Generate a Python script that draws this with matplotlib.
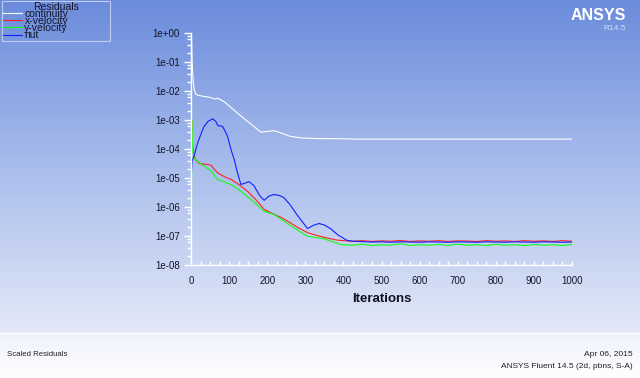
import numpy as np
import matplotlib.pyplot as plt
from matplotlib.colors import LinearSegmentedColormap
from matplotlib.ticker import FixedLocator, MultipleLocator, FuncFormatter

plt.rcParams['font.family'] = ['Liberation Sans', 'DejaVu Sans']

# tail iterations shared by the converged part of the run
tail_iters = [425, 450, 475, 500, 525, 550, 575, 600, 625, 650, 675, 700,
              725, 750, 775, 800, 825, 850, 875, 900, 925, 950, 975, 1000]

cont_iters = [1, 2, 3, 5, 8, 12, 20, 35, 50, 62, 70, 78, 90, 105, 125, 144,
              165, 183, 200, 217, 235, 262, 290, 330, 400] + tail_iters
continuity = [1.0, 0.3, 0.1, 0.03, 0.012, 8e-3, 7e-3, 6.5e-3, 6e-3, 5.3e-3,
              5.6e-3, 5.0e-3, 4.0e-3, 2.7e-3, 1.6e-3, 1.0e-3, 6e-4, 3.8e-4,
              4.0e-4, 4.3e-4, 3.6e-4, 2.7e-4, 2.4e-4, 2.3e-4, 2.25e-4,
              2.2e-4, 2.2e-4, 2.2e-4, 2.2e-4, 2.2e-4, 2.2e-4, 2.2e-4, 2.2e-4,
              2.2e-4, 2.2e-4, 2.2e-4, 2.2e-4, 2.2e-4, 2.2e-4, 2.2e-4, 2.2e-4,
              2.2e-4, 2.2e-4, 2.2e-4, 2.2e-4, 2.2e-4, 2.2e-4, 2.2e-4, 2.2e-4]

xvel_iters = [1, 2, 3, 5, 8, 14, 21, 35, 52, 60, 70, 83, 95, 105, 125, 148,
              170, 192, 215, 236, 258, 279, 306, 330, 349, 384, 410] + tail_iters
x_velocity = [6e-6, 1e-3, 3e-4, 1e-4, 5.5e-5, 4e-5, 3.2e-5, 3e-5, 2.8e-5,
              2.1e-5, 1.5e-5, 1.2e-5, 1.0e-5, 9e-6, 6e-6, 3.5e-6, 1.8e-6,
              8.3e-7, 5.8e-7, 4.4e-7, 3e-7, 2e-7, 1.3e-7, 1.05e-7, 9e-8,
              7.2e-8, 6.8e-8,
              6.6e-8, 6.9e-8, 6.5e-8, 6.8e-8, 6.6e-8, 7.0e-8, 6.5e-8, 6.8e-8,
              6.6e-8, 6.9e-8, 6.5e-8, 6.8e-8, 6.7e-8, 6.5e-8, 6.9e-8, 6.6e-8,
              6.8e-8, 6.5e-8, 6.9e-8, 6.6e-8, 6.8e-8, 6.5e-8, 6.9e-8, 6.6e-8]

yvel_iters = [1, 2, 3, 5, 8, 12, 20, 35, 52, 62, 70, 85, 105, 125, 148, 170,
              192, 218, 245, 279, 306, 330, 349, 370, 393, 410] + tail_iters
y_velocity = [1.3e-7, 1e-3, 2e-4, 8e-5, 5e-5, 4.4e-5, 3.5e-5, 2.5e-5, 1.8e-5,
              1.2e-5, 9e-6, 7.5e-6, 6e-6, 4e-6, 2.3e-6, 1.3e-6, 7e-7, 5.6e-7,
              3.2e-7, 1.6e-7, 9.8e-8, 8.8e-8, 8e-8, 6.5e-8, 5.1e-8, 4.9e-8,
              4.8e-8, 5.2e-8, 4.7e-8, 5.0e-8, 4.8e-8, 5.4e-8, 4.7e-8, 5.0e-8,
              4.8e-8, 5.1e-8, 4.7e-8, 5.3e-8, 4.8e-8, 5.0e-8, 4.7e-8, 5.2e-8,
              4.8e-8, 5.0e-8, 4.7e-8, 5.1e-8, 4.8e-8, 5.0e-8, 4.7e-8, 5.1e-8]

nut_iters = [1, 3, 8, 12, 18, 25, 34, 45, 57, 65, 71, 77, 83, 90, 96, 105,
             113, 122, 131, 140, 152, 165, 180, 192, 205, 218, 232, 244, 260,
             280, 306, 320, 336, 350, 366, 385, 410] + tail_iters
nut = [1.5e-5, 4e-5, 5.5e-5, 9e-5, 1.7e-4, 3e-4, 5.9e-4, 9e-4, 1.1e-3, 9e-4,
       6.3e-4, 6.3e-4, 6e-4, 4e-4, 2.7e-4, 9.5e-5, 4.5e-5, 1.5e-5, 6e-6,
       6.5e-6, 7.5e-6, 5.5e-6, 2.5e-6, 1.7e-6, 2.4e-6, 2.7e-6, 2.5e-6, 2.1e-6,
       1.2e-6, 5e-7, 1.8e-7, 2.3e-7, 2.7e-7, 2.4e-7, 1.8e-7, 1.1e-7, 7e-8,
       6.6e-8, 6.4e-8, 6.2e-8, 6.3e-8, 6.1e-8, 6.3e-8, 6.2e-8, 6.1e-8,
       6.3e-8, 6.2e-8, 6.1e-8, 6.3e-8, 6.2e-8, 6.1e-8, 6.3e-8, 6.2e-8,
       6.1e-8, 6.3e-8, 6.2e-8, 6.1e-8, 6.3e-8, 6.2e-8, 6.1e-8, 6.2e-8]

W, H = 640, 378
fig = plt.figure(figsize=(6.4, 3.78), dpi=100)

# background gradient (in pixel coordinates)
bg = fig.add_axes([0, 0, 1, 1])
grad = np.linspace(0, 1, 256).reshape(-1, 1)
top_cmap = LinearSegmentedColormap.from_list('top', ['#6b8cdc', '#a9bdec', '#e2e8f7'])
bot_cmap = LinearSegmentedColormap.from_list('bot', ['#eef2fc', '#ffffff'])
bg.imshow(grad, cmap=top_cmap, extent=[0, W, 333, 0], aspect='auto')
bg.imshow(grad, cmap=bot_cmap, extent=[0, W, H, 333], aspect='auto')
bg.axhline(333, color='white', lw=1)
bg.set_xlim(0, W)
bg.set_ylim(H, 0)
bg.axis('off')

bg.text(626, 15, 'ANSYS', color='white', fontsize=11.5, fontweight='bold',
        ha='right', va='center')
bg.text(626, 28, 'R14.5', color='#d5def5', fontsize=6, ha='right', va='center')
bg.text(7, 355, 'Scaled Residuals', color='#222222', fontsize=5.6, va='center')
bg.text(633, 355, 'Apr 06, 2015', color='#222222', fontsize=6, ha='right', va='center')
bg.text(633, 366, 'ANSYS Fluent 14.5 (2d, pbns, S-A)', color='#222222', fontsize=6,
        ha='right', va='center')

# residual plot
ax = fig.add_axes([191 / W, 1 - 265 / H, 381 / W, 232 / H])
ax.patch.set_visible(False)
ax.plot(cont_iters, continuity, color='white', lw=0.8, label='continuity')
ax.plot(xvel_iters, x_velocity, color='#ff2020', lw=0.8, label='x-velocity')
ax.plot(yvel_iters, y_velocity, color='#10ff10', lw=0.8, label='y-velocity')
ax.plot(nut_iters, nut, color='#1020ff', lw=0.8, label='nut')

ax.set_yscale('log')
ax.set_ylim(1e-8, 1)
ax.set_xlim(0, 1000)
for s in ['top', 'right']:
    ax.spines[s].set_visible(False)
for s in ['left', 'bottom']:
    ax.spines[s].set_color('white')
    ax.spines[s].set_linewidth(1)

ax.yaxis.set_major_locator(FixedLocator([10.0 ** k for k in range(-8, 1)]))
ax.yaxis.set_major_formatter(FuncFormatter(lambda v, p: '%.0e' % v))
minor = [m * 10.0 ** k for k in range(-8, 0) for m in (2, 4, 6, 8)]
ax.yaxis.set_minor_locator(FixedLocator(minor))
ax.yaxis.set_minor_formatter(FuncFormatter(lambda v, p: ''))
ax.xaxis.set_major_locator(MultipleLocator(100))
ax.xaxis.set_minor_locator(MultipleLocator(25))

ax.tick_params(axis='y', which='major', direction='out', length=5, width=1,
               color='white', labelsize=7, labelcolor='#15152a', pad=3)
ax.tick_params(axis='y', which='minor', direction='out', length=3, width=1,
               color='white')
ax.tick_params(axis='x', which='both', direction='in', length=3, width=1,
               color='white', labelsize=7, labelcolor='#15152a', pad=8)
ax.set_xlabel('Iterations', fontsize=9.5, fontweight='bold', color='#101020',
              labelpad=5)

leg = ax.legend(loc='upper left', bbox_to_anchor=(2 / W, 1 - 38 / H, 108 / W, 37 / H),
                bbox_transform=fig.transFigure, mode='expand',
                title='Residuals', fontsize=7.5, title_fontsize=7.5,
                labelspacing=-0.27, handlelength=1.9, handletextpad=0.2,
                borderpad=0.05, borderaxespad=0, fancybox=False,
                facecolor='none')
leg.get_frame().set_edgecolor('#d3ddf5')
leg.get_frame().set_linewidth(0.8)
for t in leg.get_texts():
    t.set_color('#15152a')
leg.get_title().set_color('#15152a')

fig.savefig('out.png', dpi=100)
